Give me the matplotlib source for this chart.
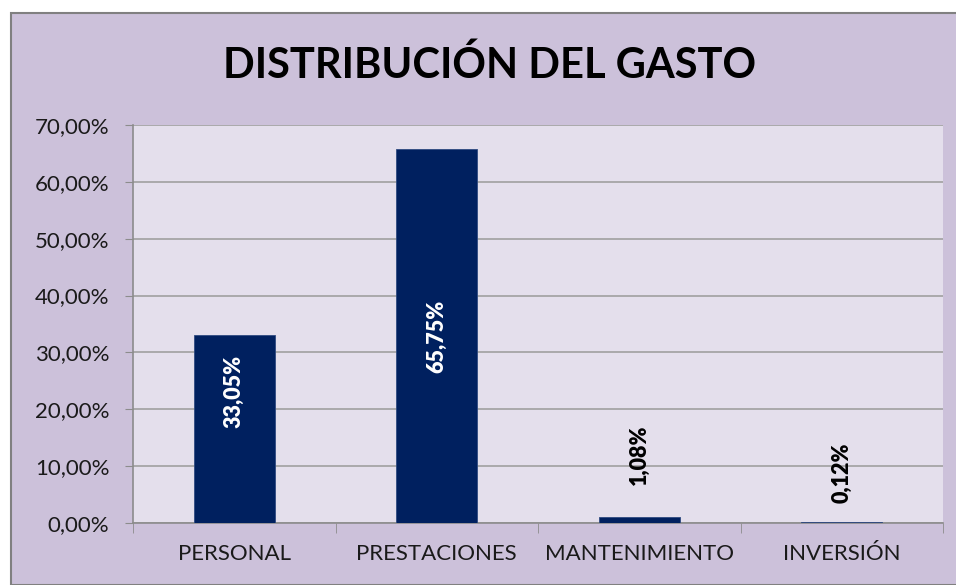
import matplotlib.pyplot as plt
from matplotlib.patches import Rectangle
from matplotlib.ticker import FuncFormatter

plt.rcParams['font.family'] = ['Lato', 'DejaVu Sans']

# Datos
categorias = ['PERSONAL', 'PRESTACIONES', 'MANTENIMIENTO', 'INVERSIÓN']
valores = [33.05, 65.75, 1.08, 0.12]
etiquetas = ['33,05%', '65,75%', '1,08%', '0,12%']
# altura (en %) donde se centra cada etiqueta
pos_etiqueta = [23.2, 32.8, 12.0, 8.8]
color_etiqueta = ['white', 'white', 'black', 'black']

fig = plt.figure(figsize=(9.56, 5.85), dpi=100)
fig.patch.set_facecolor('white')

# Fondo del área del gráfico
fondo = Rectangle((11 / 956, 0), 1, (585 - 13) / 585, transform=fig.transFigure,
                  facecolor='#CCC1DA', edgecolor='#808080', linewidth=1.5, zorder=-5)
fig.patches.append(fondo)

ax = fig.add_axes([133 / 956, (585 - 523) / 585, 810 / 956, 398 / 585])
ax.set_facecolor('#E4DFEC')

x = list(range(len(categorias)))
ax.bar(x, valores, width=0.4, color='#00205F', edgecolor='#2F4A80', linewidth=0.6, zorder=3)

for xi, yi, txt, col in zip(x, pos_etiqueta, etiquetas, color_etiqueta):
    ax.text(xi, yi, txt, rotation=90, ha='center', va='center', color=col,
            fontsize=15.5, fontweight='heavy', zorder=4)

ax.set_xlim(-0.5, len(categorias) - 0.5)
ax.set_ylim(0, 70)
ax.set_yticks(range(0, 71, 10))
ax.yaxis.set_major_formatter(FuncFormatter(lambda v, p: f'{v:.2f}%'.replace('.', ',')))
ax.set_xticks(x)
ax.set_xticklabels(categorias)
ax.set_xticks([i - 0.5 for i in range(len(categorias) + 1)], minor=True)

ax.grid(axis='y', color='#A0A0A0', linewidth=1.2, zorder=1)
for s in ['top', 'right']:
    ax.spines[s].set_visible(False)
for s in ['left', 'bottom']:
    ax.spines[s].set_color('#8C8C8C')
    ax.spines[s].set_linewidth(1.2)

ax.tick_params(axis='y', length=6, color='#8C8C8C', labelsize=16, pad=11, labelcolor='#1A1A1A')
ax.tick_params(axis='x', which='major', length=0, labelsize=16, pad=15, labelcolor='#1A1A1A')
ax.tick_params(axis='x', which='minor', length=7, color='#8C8C8C', direction='out')

fig.text(490 / 956, 1 - 65 / 585, 'DISTRIBUCIÓN DEL GASTO', ha='center', va='center',
         fontsize=30, fontweight='bold', color='black')

fig.savefig('out.png', dpi=100)
